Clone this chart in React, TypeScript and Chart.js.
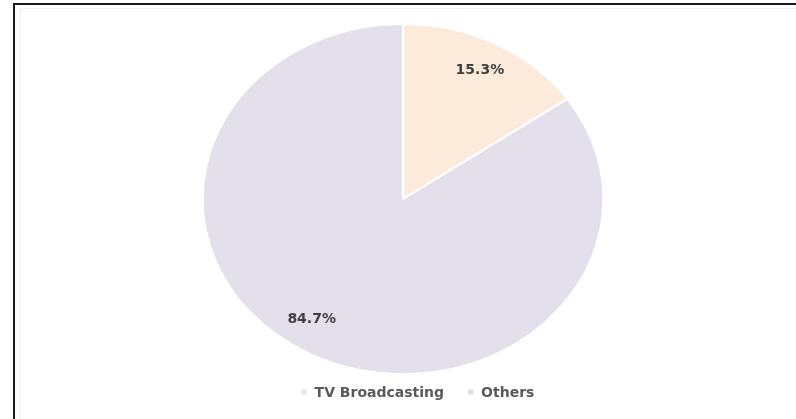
import React, { useEffect, useRef } from "react";
import { Chart, registerables } from "chart.js";

Chart.register(...registerables);

const categories: string[] = ["TV Broadcasting", "Others"];
const shares: number[] = [15.3, 84.7];
const sliceColors: string[] = ["#FCEADB", "#E3DFEB"];
const markerColors: string[] = ["#E6E3E0", "#DDDAE3"];

const ELLIPSE_X = 1.145;

const ellipsePlugin = {
  id: "ellipse",
  beforeDatasetsDraw(chart: any) {
    const arc = chart.getDatasetMeta(0).data[0];
    if (!arc) return;
    const ctx = chart.ctx;
    ctx.save();
    ctx.translate(arc.x, 0);
    ctx.scale(ELLIPSE_X, 1);
    ctx.translate(-arc.x, 0);
  },
  afterDatasetsDraw(chart: any) {
    chart.ctx.restore();
  },
};

const labelPlugin = {
  id: "sliceLabels",
  afterDraw(chart: any) {
    const ctx = chart.ctx;
    const meta = chart.getDatasetMeta(0);
    const nudges = [0, 6];
    const fracs = [0.83, 0.825];
    ctx.save();
    ctx.font = "bold 14px 'DejaVu Sans'";
    ctx.fillStyle = "#404040";
    ctx.textAlign = "center";
    ctx.textBaseline = "middle";
    meta.data.forEach((arc: any, i: number) => {
      const mid = (arc.startAngle + arc.endAngle) / 2 + (nudges[i] * Math.PI) / 180;
      const r = arc.outerRadius * fracs[i];
      const x = arc.x + ELLIPSE_X * r * Math.cos(mid);
      const y = arc.y + r * Math.sin(mid);
      ctx.fillText(shares[i].toFixed(1) + "%", x, y);
    });
    ctx.restore();
  },
};

const legendPlugin = {
  id: "customLegend",
  afterDraw(chart: any) {
    const ctx = chart.ctx;
    const labels: string[] = chart.data.labels;
    const box = 5;
    const textGap = 8;
    const itemGap = 24;
    ctx.save();
    ctx.font = "bold 14px 'DejaVu Sans'";
    ctx.textBaseline = "middle";
    ctx.textAlign = "left";
    const widths = labels.map((l) => box + textGap + ctx.measureText(l).width);
    const total = widths.reduce((a, b) => a + b, 0) + itemGap * (labels.length - 1);
    let x = 418 - total / 2;
    const y = 392;
    labels.forEach((l, i) => {
      ctx.fillStyle = markerColors[i];
      ctx.fillRect(x, y - box / 2, box, box);
      ctx.fillStyle = "#5A5A5A";
      ctx.fillText(l, x + box + textGap, y + 1);
      x += widths[i] + itemGap;
    });
    ctx.restore();
  },
};

export default function App() {
  const ref = useRef<HTMLCanvasElement | null>(null);
  useEffect(() => {
    if (!ref.current) return;
    const chart = new Chart(ref.current, {
      type: "pie",
      data: {
        labels: categories,
        datasets: [
          {
            data: shares,
            backgroundColor: sliceColors,
            borderColor: "#FFFFFF",
            borderWidth: 2,
          },
        ],
      },
      options: {
        animation: false,
        responsive: false,
        maintainAspectRatio: false,
        layout: { padding: { top: 23, bottom: 44, left: 10, right: 0 } },
        plugins: {
          legend: { display: false },
          tooltip: { enabled: false },
        },
      },
      plugins: [ellipsePlugin, labelPlugin, legendPlugin],
    });
    return () => chart.destroy();
  }, []);
  return (
    <div
      style={{
        position: "fixed",
        left: 0,
        top: 0,
        width: 796,
        height: 419,
        background: "#FFFFFF",
        overflow: "hidden",
      }}
    >
      <canvas ref={ref} width={796} height={419} style={{ position: "absolute", left: 0, top: 0 }} />
      <div
        style={{
          position: "absolute",
          left: 20,
          top: 8,
          width: 780,
          height: 420,
          borderTop: "1px solid #F0F0F0",
          borderLeft: "1px solid #F0F0F0",
          pointerEvents: "none",
        }}
      />
      <div
        style={{
          position: "absolute",
          left: 13,
          top: 3,
          width: 790,
          height: 420,
          borderTop: "2px solid #1A1A1A",
          borderLeft: "2px solid #1A1A1A",
          pointerEvents: "none",
        }}
      />
    </div>
  );
}
